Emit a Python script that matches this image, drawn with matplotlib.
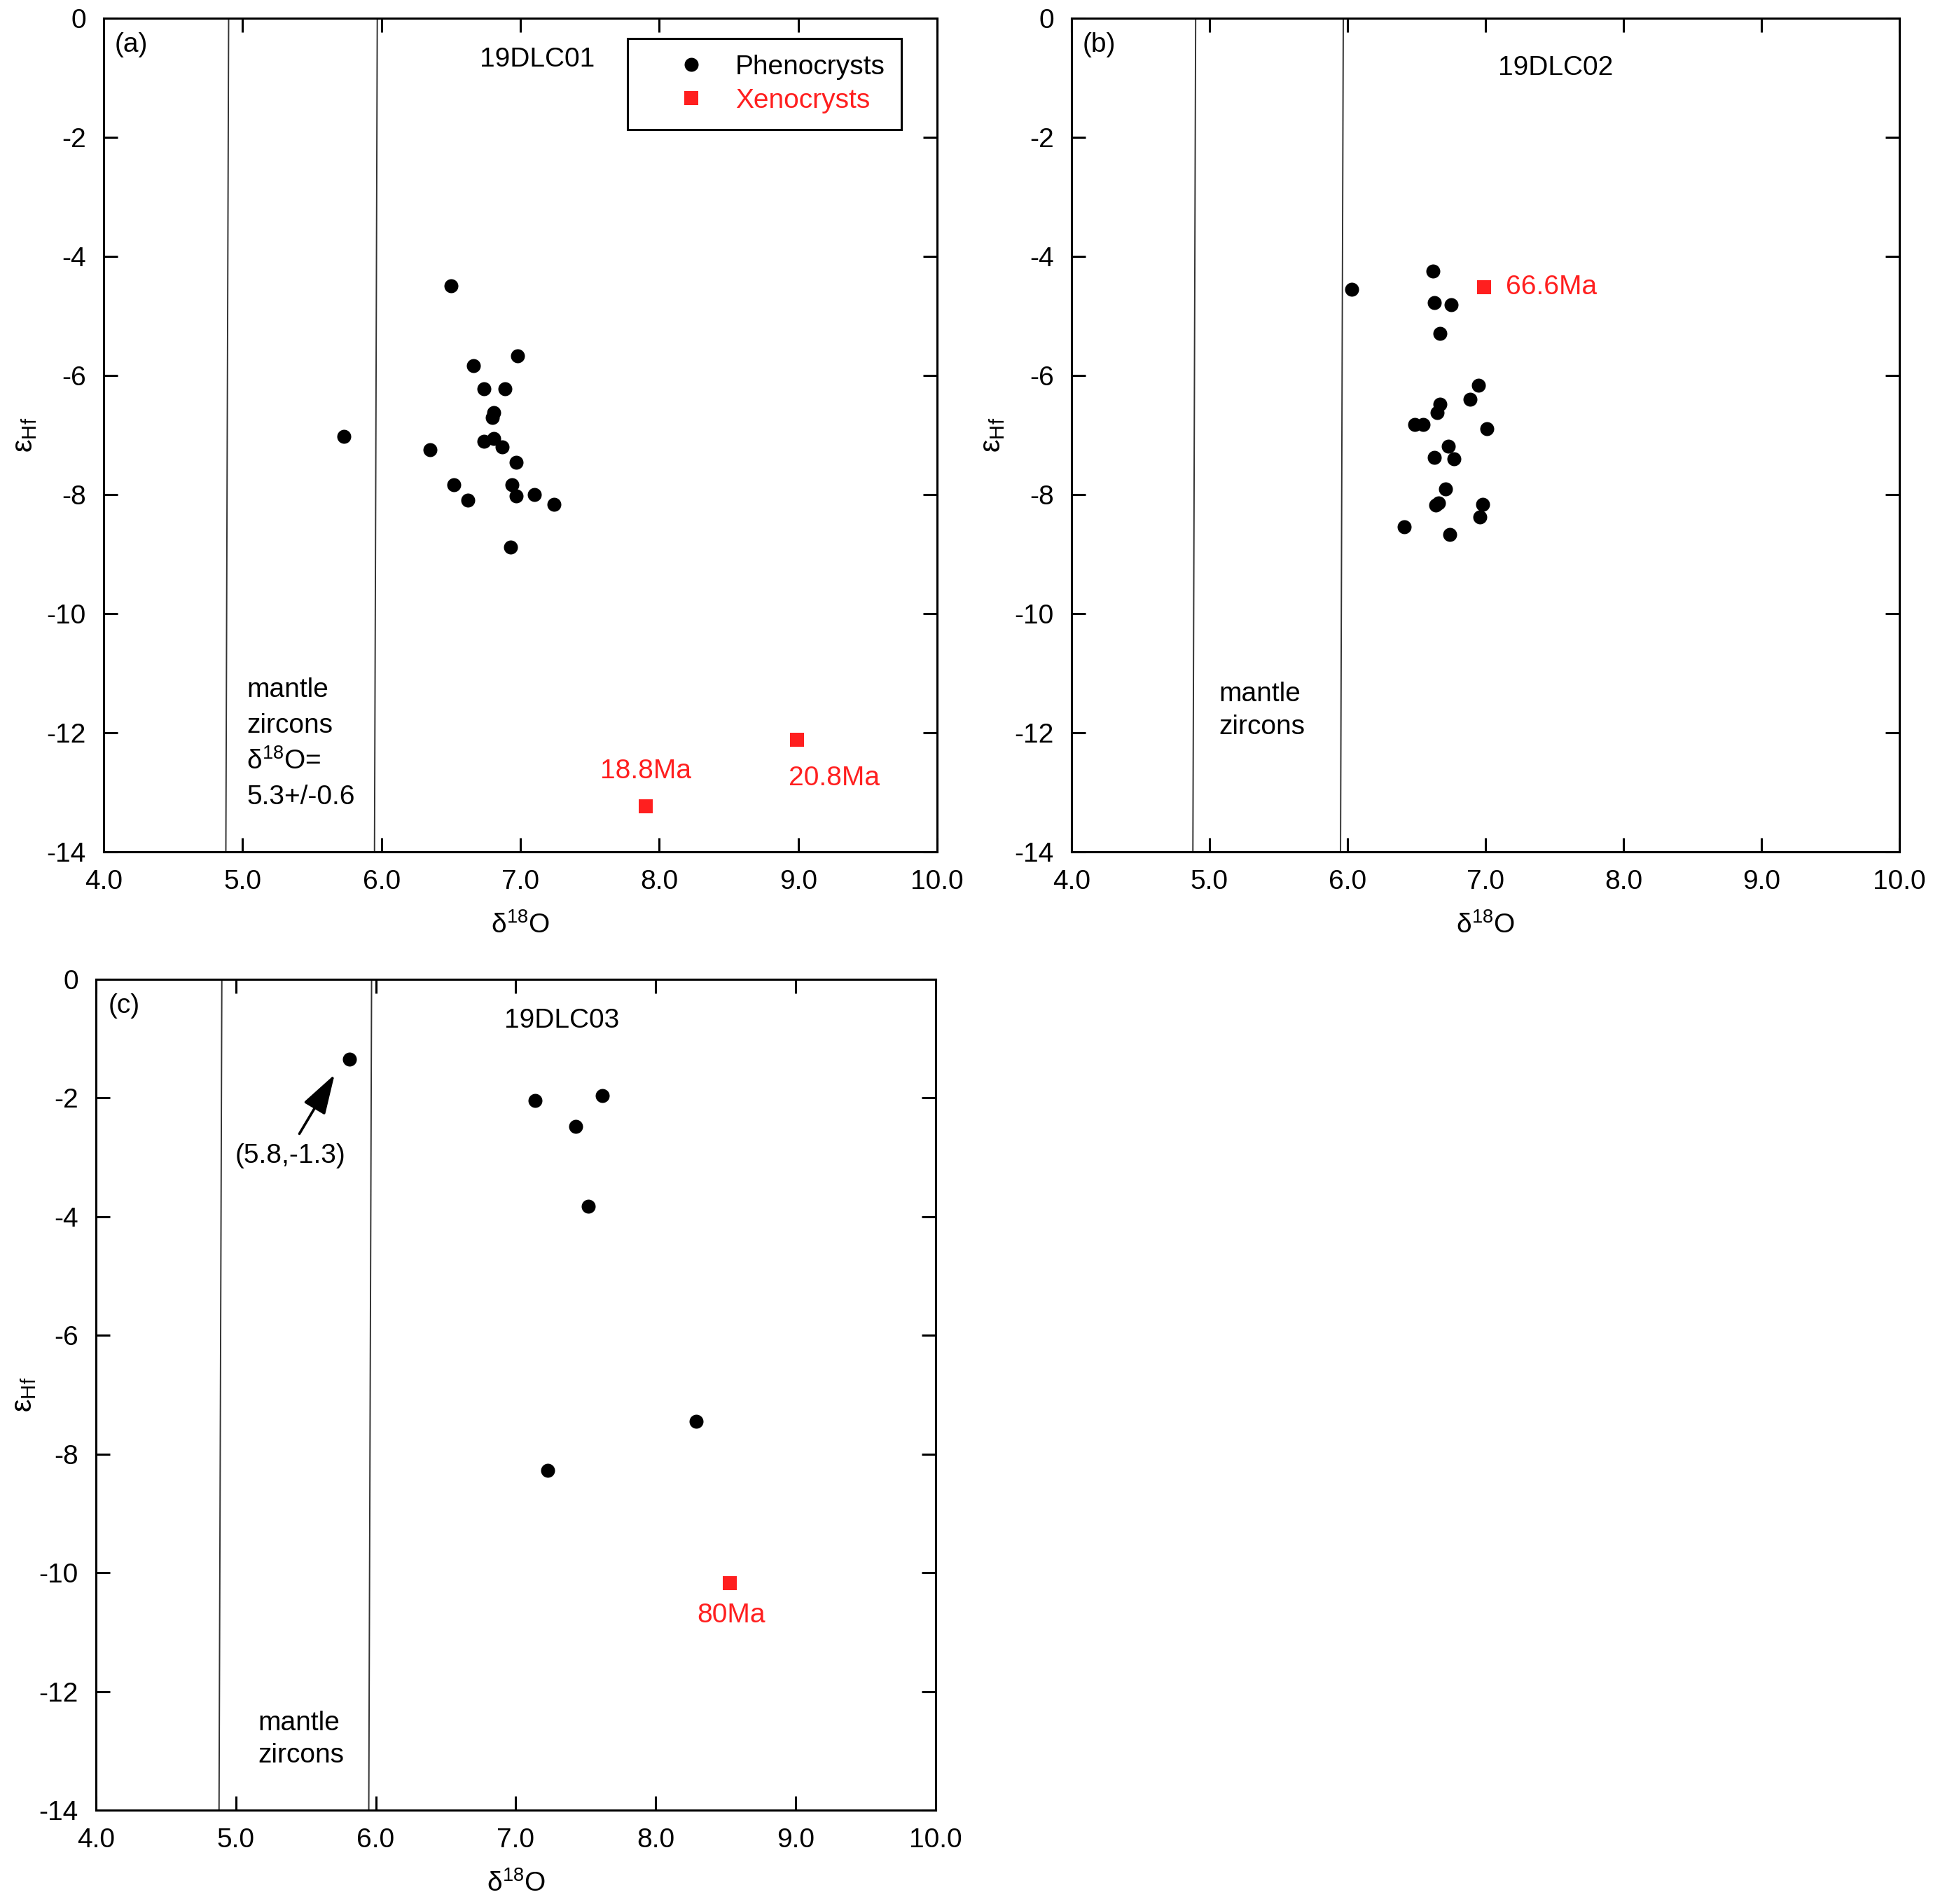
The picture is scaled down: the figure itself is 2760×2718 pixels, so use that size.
import matplotlib
matplotlib.use("Agg")
import matplotlib.pyplot as plt

plt.rcParams['font.family'] = ['Liberation Sans', 'DejaVu Sans']
plt.rcParams['mathtext.fontset'] = 'custom'
plt.rcParams['mathtext.rm'] = 'Liberation Sans'
plt.rcParams['mathtext.default'] = 'regular'
plt.rcParams['axes.unicode_minus'] = False

RED = '#ff1f1f'

# panel (a) 19DLC01
a_pheno_x = [6.50, 6.98, 6.66, 6.74, 6.89, 6.81, 6.80, 6.74, 6.81, 6.87,
             6.35, 6.97, 6.52, 6.94, 6.97, 7.10, 6.62, 7.24, 6.93, 5.73]
a_pheno_y = [-4.49, -5.67, -5.84, -6.22, -6.22, -6.62, -6.71, -7.10, -7.06, -7.20,
             -7.25, -7.46, -7.84, -7.84, -8.02, -8.00, -8.09, -8.16, -8.88, -7.02]
a_xeno_x = [7.90, 8.99]
a_xeno_y = [-13.23, -12.12]
a_xeno_age = ['18.8Ma', '20.8Ma']

# panel (b) 19DLC02
b_pheno_x = [6.62, 6.03, 6.63, 6.75, 6.67, 6.95, 6.89, 6.67, 6.65, 6.49, 6.55,
             7.01, 6.73, 6.63, 6.77, 6.71, 6.66, 6.64, 6.98, 6.96, 6.41, 6.74]
b_pheno_y = [-4.25, -4.55, -4.77, -4.81, -5.29, -6.16, -6.40, -6.48, -6.62, -6.82, -6.82,
             -6.89, -7.19, -7.38, -7.40, -7.91, -8.14, -8.18, -8.16, -8.37, -8.54, -8.67]
b_xeno_x = [6.99]
b_xeno_y = [-4.52]
b_xeno_age = ['66.6Ma']

# panel (c) 19DLC03
c_pheno_x = [5.81, 7.14, 7.62, 7.43, 7.52, 8.29, 7.23]
c_pheno_y = [-1.35, -2.04, -1.96, -2.48, -3.83, -7.45, -8.27]
c_xeno_x = [8.53]
c_xeno_y = [-10.17]
c_xeno_age = ['80Ma']

# mantle zircon band edges (x at top, x at bottom)
mantle_edges = [(4.90, 4.88), (5.97, 5.95)]

fig = plt.figure(figsize=(13.8, 13.59), dpi=200)
ax_a = fig.add_axes([0.0536, 0.5526, 0.4312, 0.4378])
ax_b = fig.add_axes([0.5543, 0.5526, 0.4283, 0.4378])
ax_c = fig.add_axes([0.0496, 0.0493, 0.4344, 0.4364])


def setup(ax, letter, sample, sample_xy, ypad=4):
    ax.set_xlim(4.0, 10.0)
    ax.set_ylim(-14, 0)
    ax.set_xticks([4, 5, 6, 7, 8, 9, 10])
    ax.set_xticklabels(['%.1f' % v for v in range(4, 11)])
    ax.set_yticks(range(-14, 1, 2))
    ax.tick_params(direction='in', length=7.2, width=1.1, top=True, right=True,
                   labelsize=14, pad=9)
    for sp in ax.spines.values():
        sp.set_linewidth(1.1)
    ax.set_xlabel('δ$^{18}$O', fontsize=14, labelpad=9)
    ax.set_ylabel('ε$_{Hf}$', fontsize=15, labelpad=ypad)
    for xt, xb in mantle_edges:
        ax.plot([xt, xb], [0, -14], color='#333333', lw=0.7, zorder=1)
    ax.text(4.2, -0.45, letter, fontsize=14, ha='center', va='center')
    ax.text(sample_xy[0], sample_xy[1], sample, fontsize=14, ha='center', va='center')


def points(ax, px, py, xx, xy):
    ax.plot(px, py, 'o', color='black', ms=7.2, mew=0, zorder=3, label='Phenocrysts')
    ax.plot(xx, xy, 's', color=RED, ms=7.2, mew=0, zorder=3, label='Xenocrysts')


setup(ax_a, '(a)', '19DLC01', (7.12, -0.69))
points(ax_a, a_pheno_x, a_pheno_y, a_xeno_x, a_xeno_y)
ax_a.text(a_xeno_x[0], a_xeno_y[0] + 0.58, a_xeno_age[0], color=RED, fontsize=14,
          ha='center', va='center')
ax_a.text(a_xeno_x[1] + 0.27, a_xeno_y[1] - 0.64, a_xeno_age[1], color=RED, fontsize=14,
          ha='center', va='center')
for i, line in enumerate(['mantle', 'zircons', 'δ$^{18}$O=', '5.3+/-0.6']):
    ax_a.text(5.03, -11.28 - 0.6 * i, line, fontsize=14, ha='left', va='center')
leg = ax_a.legend(loc='upper right', bbox_to_anchor=(0.957, 0.976), fontsize=14,
                  frameon=True, fancybox=False, framealpha=1, edgecolor='black',
                  handlelength=3.5, handletextpad=-0.15, borderpad=0.6,
                  borderaxespad=0, labelspacing=0.3, numpoints=1,
                  labelcolor=['black', RED])
leg.get_frame().set_linewidth(1.1)

setup(ax_b, '(b)', '19DLC02', (7.51, -0.83))
points(ax_b, b_pheno_x, b_pheno_y, b_xeno_x, b_xeno_y)
ax_b.text(b_xeno_x[0] + 0.16, b_xeno_y[0], b_xeno_age[0], color=RED, fontsize=14,
          ha='left', va='center')
for i, line in enumerate(['mantle', 'zircons']):
    ax_b.text(5.07, -11.35 - 0.56 * i, line, fontsize=14, ha='left', va='center')

setup(ax_c, '(c)', '19DLC03', (7.33, -0.70), ypad=0.5)
points(ax_c, c_pheno_x, c_pheno_y, c_xeno_x, c_xeno_y)
ax_c.text(c_xeno_x[0] + 0.01, c_xeno_y[0] - 0.55, c_xeno_age[0], color=RED, fontsize=14,
          ha='center', va='center')
ax_c.annotate('', xy=(c_pheno_x[0] - 0.09, c_pheno_y[0] - 0.2), xytext=(5.44, -2.66),
              arrowprops=dict(arrowstyle='-|>,head_length=0.8,head_width=0.25',
                              color='black', lw=1.3, mutation_scale=22))
ax_c.text(5.39, -2.98, '(%.1f,%.1f)' % (5.8, -1.3), fontsize=14, ha='center', va='center')
for i, line in enumerate(['mantle', 'zircons']):
    ax_c.text(5.16, -12.54 - 0.54 * i, line, fontsize=14, ha='left', va='center')

fig.savefig('out.png', dpi=200)
